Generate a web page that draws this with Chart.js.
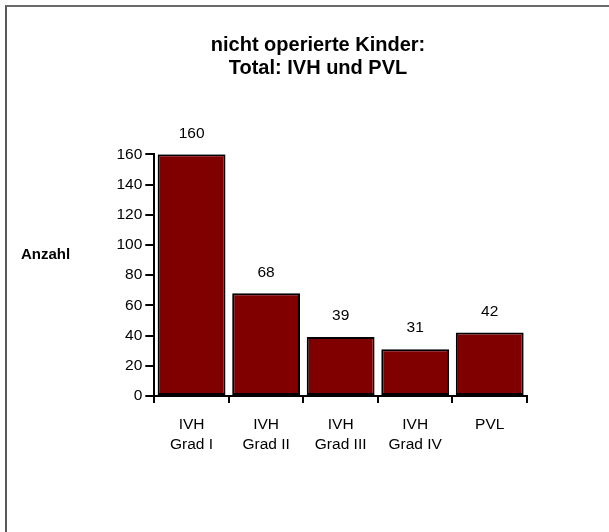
<!DOCTYPE html>
<html>
<head>
<meta charset="utf-8">
<script src="https://cdn.jsdelivr.net/npm/chart.js@4/dist/chart.umd.min.js"></script>
<style>
  html, body { margin: 0; padding: 0; background: #fff; }
  #wrap { position: relative; width: 609px; height: 532px; overflow: hidden; }
  #c { position: absolute; left: 0; top: 0; }
  #frame { position: absolute; left: 5px; top: 5px; width: 640px; height: 560px;
           border-left: 2px solid #5a5a5a; border-top: 2px solid #6a6a6a; pointer-events: none; }
</style>
</head>
<body>
<div id="wrap">
  <canvas id="c" width="609" height="532"></canvas>
  <div id="frame"></div>
</div>
<script>
const titleLines = ["nicht operierte Kinder:", "Total: IVH und PVL"];
const yAxisLabel = "Anzahl";
const categories = [["IVH", "Grad I"], ["IVH", "Grad II"], ["IVH", "Grad III"], ["IVH", "Grad IV"], ["PVL"]];
const counts = [160, 68, 39, 31, 42];
const yTicks = [0, 20, 40, 60, 80, 100, 120, 140, 160];

const FONT = "'Liberation Sans', Arial, Helvetica, sans-serif";

const extraText = {
  id: 'extraText',
  afterDatasetsDraw(chart) {
    const ctx = chart.ctx;
    ctx.save();
    // value labels above bars
    ctx.font = "15.5px " + FONT;
    ctx.fillStyle = "#000";
    ctx.textAlign = "center";
    ctx.textBaseline = "middle";
    const meta = chart.getDatasetMeta(0);
    meta.data.forEach((bar, i) => {
      ctx.fillText(String(counts[i]), bar.x, bar.y - 21);
    });
    // horizontal y-axis caption
    ctx.font = "bold 15px " + FONT;
    ctx.textAlign = "left";
    ctx.fillText(yAxisLabel, 21, 255);
    ctx.restore();
  }
};

new Chart(document.getElementById('c'), {
  type: 'bar',
  data: {
    labels: categories,
    datasets: [{
      data: counts,
      backgroundColor: '#800000',
      borderColor: '#000',
      borderWidth: 2,
      borderSkipped: false,
      barPercentage: 0.91,
      categoryPercentage: 1.0
    }]
  },
  options: {
    responsive: false,
    devicePixelRatio: 1,
    animation: false,
    layout: { padding: { left: 109, right: 82, top: 0, bottom: 0 } },
    plugins: {
      legend: { display: false },
      tooltip: { enabled: false },
      title: {
        display: true,
        text: titleLines,
        color: '#000',
        font: { family: FONT, size: 20, weight: 'bold', lineHeight: 1.15 },
        padding: { top: 34, bottom: 74.3 }
      }
    },
    scales: {
      x: {
        grid: { display: true, drawOnChartArea: false, drawTicks: true, tickLength: 7, color: '#000', lineWidth: 2, offset: true },
        border: { display: true, color: '#000', width: 2 },
        ticks: { color: '#000', font: { family: FONT, size: 15.5, lineHeight: 1.29 }, padding: 12, maxRotation: 0, autoSkip: false },
        afterFit(scale) { scale.height = 136; }
      },
      y: {
        min: 0, max: 160,
        afterBuildTicks(scale) { scale.ticks = yTicks.map(v => ({ value: v })); },
        grid: { display: true, drawOnChartArea: false, drawTicks: true, tickLength: 9, color: '#000', lineWidth: 2 },
        border: { display: true, color: '#000', width: 2 },
        ticks: { color: '#000', font: { family: FONT, size: 15.5 }, padding: 3 },
        afterFit(scale) { scale.width = 45.3; }
      }
    }
  },
  plugins: [extraText]
});
</script>
</body>
</html>
